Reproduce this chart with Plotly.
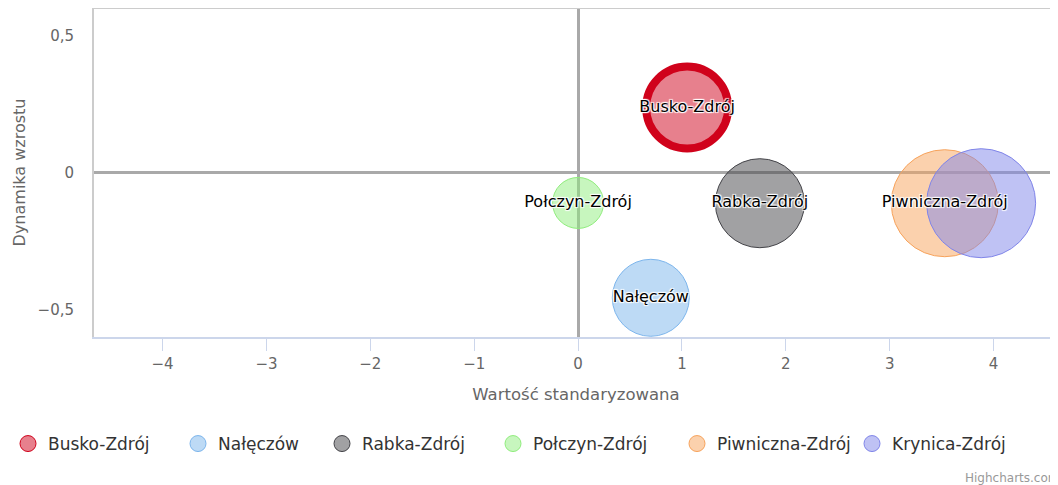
import plotly.graph_objects as go

# ---- data ----
miasta = ["Busko-Zdrój", "Nałęczów", "Rabka-Zdrój", "Połczyn-Zdrój", "Piwniczna-Zdrój", "Krynica-Zdrój"]
wartosc_standaryzowana = [1.05, 0.70, 1.75, 0.0, 3.53, 3.88]
dynamika_wzrostu = [0.237, -0.457, -0.112, -0.111, -0.112, -0.112]
wielkosc = [82, 77, 89, 51, 107, 109]
# labels shown inside bubbles (Krynica's label is hidden by overlap in the reference)
etykiety = ["Busko-Zdrój", "Nałęczów", "Rabka-Zdrój", "Połczyn-Zdrój", "Piwniczna-Zdrój", ""]

x_ticks = [-4, -3, -2, -1, 0, 1, 2, 3, 4]
y_ticks = [-0.5, 0, 0.5]

# ---- styles ----
kolory = ["rgb(208,2,27)", "rgb(124,181,236)", "rgb(67,67,72)", "rgb(144,237,125)",
          "rgb(247,163,92)", "rgb(128,133,233)"]
wypelnienie = ["rgba(208,2,27,0.5)", "rgba(124,181,236,0.5)", "rgba(67,67,72,0.5)",
               "rgba(144,237,125,0.5)", "rgba(247,163,92,0.5)", "rgba(128,133,233,0.5)"]
obramowanie = [8, 1, 1, 1, 1, 1]
legend_centers = [26, 197, 341, 512, 696, 871]

FONT = "DejaVu Sans"
OFF = 8  # browser body margin
W, H = 1058 - OFF, 485 - OFF

fig = go.Figure()

for i, m in enumerate(miasta):
    fig.add_trace(go.Scatter(
        x=[wartosc_standaryzowana[i]], y=[dynamika_wzrostu[i]],
        mode="markers",
        marker=dict(size=[wielkosc[i]], sizemode="diameter", sizeref=1, opacity=1,
                    color=wypelnienie[i], line=dict(color=kolory[i], width=obramowanie[i])),
        name=m, showlegend=False, legendgroup=m, hoverinfo="x+y+name",
        cliponaxis=False,
    ))

# data labels on top of all bubbles
fig.add_trace(go.Scatter(
    x=wartosc_standaryzowana, y=dynamika_wzrostu, mode="text", text=etykiety,
    textposition="middle center", showlegend=False, hoverinfo="skip", cliponaxis=False,
    textfont=dict(family=FONT, size=16, color="#000000",
                  shadow="1px 1px 1px #fff, -1px -1px 1px #fff, 1px -1px 1px #fff, -1px 1px 1px #fff"),
))

# legend entries, one legend per item so their positions match the reference
for i, m in enumerate(miasta):
    lname = "legend" if i == 0 else f"legend{i+1}"
    fig.add_trace(go.Scatter(
        x=[None], y=[None], mode="markers", name=m, legendgroup=m,
        marker=dict(size=16, opacity=1, color=wypelnienie[i], line=dict(color=kolory[i], width=1)),
        showlegend=True, legend=lname,
    ))

leg_common = dict(orientation="h", xref="container", yref="container", xanchor="left",
                  yanchor="middle", y=1 - (444 - OFF) / H, bgcolor="rgba(0,0,0,0)",
                  font=dict(family=FONT, size=17, color="#333333"))
legends = {}
for i in range(len(miasta)):
    key = "legend" if i == 0 else f"legend{i+1}"
    legends[key] = dict(leg_common, x=(legend_centers[i] - OFF - 19) / W)

fig.update_layout(
    width=W, height=H,
    margin=dict(l=94 - OFF, r=0, t=0, b=148, pad=0),
    paper_bgcolor="white", plot_bgcolor="white",
    separators=",.",
    font=dict(family=FONT, color="#666666"),
    **legends,
    xaxis=dict(
        range=[-4.66, 4.62], tickvals=x_ticks, showgrid=False,
        zeroline=True, zerolinecolor="#a9a9a9", zerolinewidth=3,
        showline=True, linecolor="#ccd6eb", linewidth=2,
        ticks="outside", ticklen=12, tickcolor="#ccd6eb", tickwidth=1,
        tickfont=dict(family=FONT, size=15, color="#666666"),
        title=dict(text="Wartość standaryzowana", standoff=16,
                   font=dict(family=FONT, size=16.5, color="#666666")),
    ),
    yaxis=dict(
        range=[-0.6, 0.6], tickvals=y_ticks, showgrid=False,
        zeroline=True, zerolinecolor="#a9a9a9", zerolinewidth=3,
        showline=True, linecolor="#cccccc", linewidth=2,
        ticks="", ticklabelstandoff=15,
        tickfont=dict(family=FONT, size=15, color="#666666"),
        title=dict(text="Dynamika wzrostu", standoff=8,
                   font=dict(family=FONT, size=16, color="#666666")),
    ),
    shapes=[dict(type="line", xref="paper", yref="paper", x0=0, x1=1, y0=1, y1=1,
                 line=dict(color="#cccccc", width=2))],
    annotations=[dict(text="Highcharts.com", xref="paper", yref="paper",
                      x=(963 - 94) / 964, y=(337 - 478) / 329, xanchor="left", yanchor="middle",
                      showarrow=False, font=dict(family=FONT, size=12, color="#999999"))],
)

fig.write_html("out.html")
